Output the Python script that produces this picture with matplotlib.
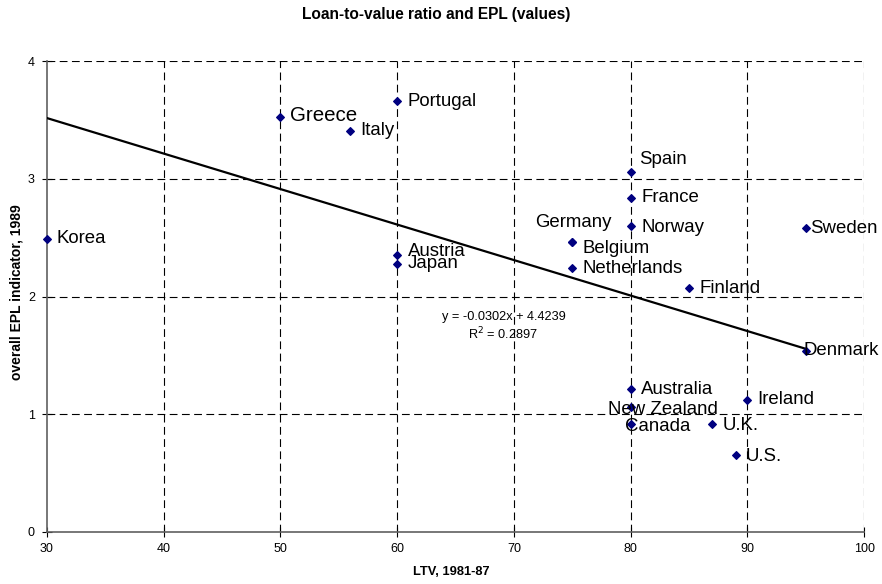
import matplotlib
matplotlib.use("Agg")
import matplotlib.pyplot as plt
import numpy as np

plt.rcParams['font.family'] = ['Liberation Sans', 'DejaVu Sans']

countries = ["Korea", "Greece", "Italy", "Portugal", "Austria", "Japan",
             "Germany", "Belgium", "Netherlands", "Spain", "France", "Norway",
             "Australia", "New Zealand", "Canada", "Finland", "U.K.", "U.S.",
             "Ireland", "Sweden", "Denmark"]
ltv = [30, 50, 56, 60, 60, 60,
       75, 75, 75, 80, 80, 80,
       80, 80, 80, 85, 87, 89,
       90, 95, 95]
epl = [2.49, 3.53, 3.41, 3.66, 2.35, 2.28,
       2.46, 2.46, 2.24, 3.06, 2.84, 2.60,
       1.21, 1.06, 0.92, 2.07, 0.92, 0.65,
       1.12, 2.58, 1.54]
slope = -0.0302
intercept = 4.4239
r2 = 0.2897

x_ticks = [30, 40, 50, 60, 70, 80, 90, 100]
y_ticks = [0, 1, 2, 3, 4]

# label offsets in pixels (dx, dy, ha)
offsets = {
    "Korea": (10, 0, "left"), "Greece": (10, 1, "left"), "Italy": (10, 0, "left"),
    "Portugal": (10, 0, "left"), "Austria": (11, 4, "left"), "Japan": (11, 0, "left"),
    "Germany": (1, 20, "center"), "Belgium": (10, -6, "left"),
    "Netherlands": (10, 0, "left"), "Spain": (8, 12, "left"), "France": (11, 0, "left"),
    "Norway": (11, -2, "left"), "Australia": (10, 0, "left"),
    "New Zealand": (32, -2, "center"), "Canada": (27, -3, "center"),
    "Finland": (10, 0, "left"), "U.K.": (10, -2, "left"), "U.S.": (10, -1, "left"),
    "Ireland": (10, 0, "left"), "Sweden": (4, 0, "left"), "Denmark": (-2, 0, "left"),
}
label_size = {"Greece": 14.8}

W, H = 882, 584
fig = plt.figure(figsize=(W / 100, H / 100), dpi=100)
ax = fig.add_axes([46.7 / W, 1 - 531.7 / H, (864.3 - 46.7) / W, (531.7 - 61.3) / H])

ax.set_xlim(30, 100)
ax.set_ylim(0, 4)
ax.set_xticks(x_ticks)
ax.set_yticks(y_ticks)
ax.tick_params(direction='inout', length=7, width=0.8, labelsize=9, colors='black')
ax.tick_params(axis='x', pad=4.5)
ax.tick_params(axis='y', pad=5)

for v in x_ticks[1:]:
    ax.axvline(v, color='black', lw=0.8, ls=(0, (7, 4)), zorder=1)
for v in y_ticks[1:]:
    ax.axhline(v, color='black', lw=0.8, ls=(0, (7, 4)), zorder=1)

for s in ['top', 'right']:
    ax.spines[s].set_visible(False)
for s in ['left', 'bottom']:
    ax.spines[s].set_color('#606060')
    ax.spines[s].set_linewidth(1.2)

xs = np.array([min(ltv), max(ltv)])
ax.plot(xs, slope * xs + intercept, color='black', lw=1.6, zorder=3)

ax.scatter(ltv, epl, marker='D', s=15, color='#000080', zorder=4, clip_on=False)

for c, x, y in zip(countries, ltv, epl):
    dx, dy, ha = offsets[c]
    ax.annotate(c, (x, y), xytext=(dx * 0.72, dy * 0.72), textcoords='offset points',
                ha=ha, va='center', fontsize=label_size.get(c, 13.4), zorder=5)

ax.text(503.5 / W, 1 - 316.7 / H, f"y = {slope:.4f}x + {intercept:.4f}", transform=fig.transFigure,
        ha='center', va='center', fontsize=9.2)
ax.text(503.5 / W, 1 - 334.3 / H, f"R$^2$ = {r2:.4f}", transform=fig.transFigure,
        ha='center', va='center', fontsize=9.2)

fig.text(436 / W, 1 - 15 / H, "Loan-to-value ratio and EPL (values)", ha='center', va='center',
         fontsize=11.2, fontweight='bold')
fig.text(451.7 / W, 1 - 571.7 / H, "LTV, 1981-87", ha='center', va='center',
         fontsize=9.3, fontweight='bold')
fig.text(16.7 / W, 1 - 292 / H, "overall EPL indicator, 1989", ha='center', va='center',
         rotation=90, fontsize=10, fontweight='bold')

fig.savefig("out.png", dpi=100)
